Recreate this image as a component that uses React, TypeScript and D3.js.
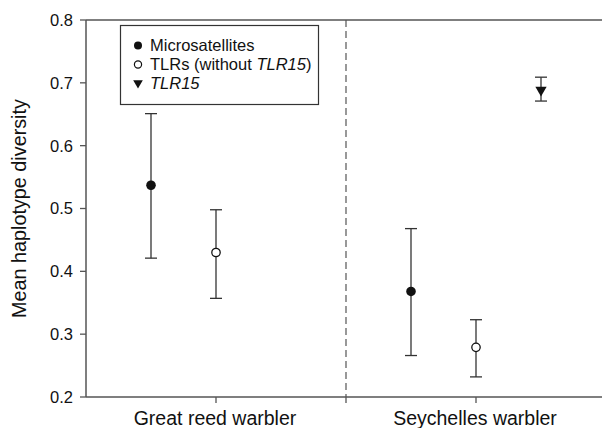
import React from "react";
import * as d3 from "d3";

const groups = ["Great reed warbler", "Seychelles warbler"];
const yTicks = [0.2, 0.3, 0.4, 0.5, 0.6, 0.7, 0.8];

// Microsatellites
const microMean = [0.537, 0.368];
const microLow = [0.421, 0.266];
const microHigh = [0.651, 0.468];

// TLRs (without TLR15)
const tlrMean = [0.43, 0.279];
const tlrLow = [0.357, 0.232];
const tlrHigh = [0.498, 0.323];

// TLR15 (Seychelles warbler only)
const tlr15Group = [1];
const tlr15Mean = [0.69];
const tlr15Low = [0.671];
const tlr15High = [0.709];

const W = 602;
const H = 428;
const FONT = "'Liberation Sans', Arial, sans-serif";
const AX = "#555";
const INK = "#333";

export default function App() {
  const x = d3.scaleLinear().domain([0.5, 2.5]).range([86, 606]);
  const y = d3.scaleLinear().domain([0.2, 0.8]).range([397, 20]);
  const off = 0.25;
  const cap = 6;
  const tri = d3.symbol().type(d3.symbolTriangle).size(55)();

  const errBar = (cx: number, lo: number, hi: number, key: string) => (
    <g key={key} stroke={INK} strokeWidth={1.3}>
      <line x1={cx} x2={cx} y1={y(lo)} y2={y(hi)} />
      <line x1={cx - cap} x2={cx + cap} y1={y(lo)} y2={y(lo)} />
      <line x1={cx - cap} x2={cx + cap} y1={y(hi)} y2={y(hi)} />
    </g>
  );

  return (
    <svg
      width={W}
      height={H}
      style={{ position: "absolute", left: 0, top: 0, background: "#fff" }}
      fontFamily={FONT}
    >
      {/* dashed separator */}
      <line x1={x(1.5)} x2={x(1.5)} y1={y(0.8)} y2={y(0.2)} stroke={AX} strokeWidth={1.2} strokeDasharray="7,4" />

      {/* axes */}
      <line x1={x(0.5)} x2={W} y1={y(0.8)} y2={y(0.8)} stroke={AX} strokeWidth={1.5} />
      <line x1={x(0.5)} x2={W} y1={y(0.2)} y2={y(0.2)} stroke={AX} strokeWidth={1.5} />
      <line x1={x(0.5)} x2={x(0.5)} y1={y(0.8)} y2={y(0.2)} stroke={AX} strokeWidth={1.5} />

      {yTicks.map((t) => (
        <g key={t}>
          <line x1={x(0.5) - 6} x2={x(0.5)} y1={y(t)} y2={y(t)} stroke={AX} strokeWidth={1.3} />
          <text x={x(0.5) - 13} y={y(t)} dy="0.36em" textAnchor="end" fontSize={16.5} fill="#111">
            {t.toFixed(1)}
          </text>
        </g>
      ))}

      {[1, 1.5, 2].map((t) => (
        <line key={t} x1={x(t)} x2={x(t)} y1={y(0.2)} y2={y(0.2) + 6} stroke={AX} strokeWidth={1.3} />
      ))}
      {groups.map((g, i) => (
        <text key={g} x={x(i + 1) - 1} y={y(0.2) + 28} textAnchor="middle" fontSize={19.5} fill="#111">
          {g}
        </text>
      ))}

      <text
        transform={`translate(26, ${(y(0.8) + y(0.2)) / 2}) rotate(-90)`}
        textAnchor="middle"
        fontSize={19.8}
        fill="#111"
      >
        Mean haplotype diversity
      </text>

      {/* Microsatellites */}
      {groups.map((_, i) => {
        const cx = x(i + 1 - off);
        return (
          <g key={"m" + i}>
            {errBar(cx, microLow[i], microHigh[i], "me" + i)}
            <circle cx={cx} cy={y(microMean[i])} r={4.8} fill="#111" />
          </g>
        );
      })}

      {/* TLRs */}
      {groups.map((_, i) => {
        const cx = x(i + 1);
        return (
          <g key={"t" + i}>
            {errBar(cx, tlrLow[i], tlrHigh[i], "te" + i)}
            <circle cx={cx} cy={y(tlrMean[i])} r={4.2} fill="#fff" stroke="#111" strokeWidth={1.3} />
          </g>
        );
      })}

      {/* TLR15 */}
      {tlr15Group.map((gi, i) => {
        const cx = x(gi + 1 + off);
        return (
          <g key={"x" + i}>
            {errBar(cx, tlr15Low[i], tlr15High[i], "xe" + i)}
            <path d={tri} transform={`translate(${cx},${y(tlr15Mean[i]) + 1}) rotate(180)`} fill="#111" />
          </g>
        );
      })}

      {/* legend */}
      <rect x={120.5} y={25.5} width={198} height={79} fill="#fff" stroke="#333" strokeWidth={1.2} />
      <g fontSize={16.5} fill="#111">
        <circle cx={138} cy={45.5} r={4} fill="#111" />
        <text x={150} y={45.5} dy="0.36em">Microsatellites</text>
        <circle cx={138} cy={64.5} r={3.6} fill="#fff" stroke="#111" strokeWidth={1.2} />
        <text x={150} y={64.5} dy="0.36em">
          TLRs (without <tspan fontStyle="italic">TLR15</tspan>)
        </text>
        <path d={d3.symbol().type(d3.symbolTriangle).size(40)()} transform="translate(138,83) rotate(180)" fill="#111" />
        <text x={150} y={83.5} dy="0.36em" fontStyle="italic">TLR15</text>
      </g>
    </svg>
  );
}
